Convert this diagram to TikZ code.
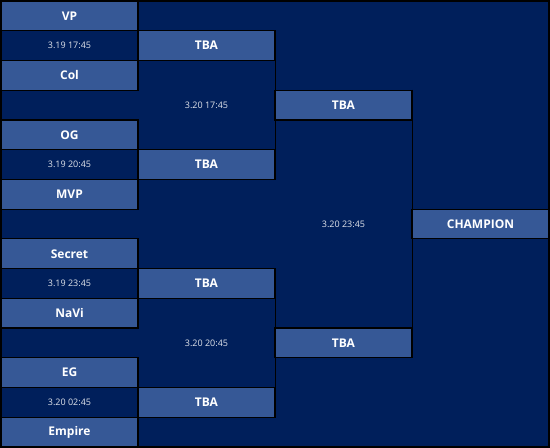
\documentclass[tikz,border=0pt]{standalone}
\usepackage{fontspec}
\setmainfont{Open Sans}
\definecolor{navy}{RGB}{0,31,91}
\definecolor{boxblue}{RGB}{54,88,150}
\definecolor{datewhite}{RGB}{225,228,235}
\tikzset{
  cellbase/.style={draw=black, line width=1.2pt, minimum width=137pt, minimum height=29.73pt, inner sep=0pt, anchor=center},
  team/.style={cellbase, fill=boxblue, text=white, font=\bfseries\fontsize{12}{14}\selectfont},
  datecell/.style={cellbase, fill=navy, text=datewhite, font=\fontsize{9}{11}\selectfont},
  timelbl/.style={inner sep=0pt, text=datewhite, font=\fontsize{9}{11}\selectfont},
  bracket/.style={draw=black, line width=1.2pt}
}
\begin{document}
\begin{tikzpicture}[x=1pt,y=-1pt]
\useasboundingbox (0,0) rectangle (550,448);
\fill[navy] (0,0) rectangle (550,448);
\def\rh{29.733}
% column centres
\def\ca{69.5}\def\cb{206.5}\def\cc{343.5}\def\cd{480.5}
% first-round match cells
\node[team] (vp) at (\ca,{1+\rh*0.5}) {VP};
\node[datecell] (d1) at (\ca,{1+\rh*1.5}) {3.19 17:45};
\node[team] (col) at (\ca,{1+\rh*2.5}) {Col};
\node[team] (og) at (\ca,{1+\rh*4.5}) {OG};
\node[datecell] (d2) at (\ca,{1+\rh*5.5}) {3.19 20:45};
\node[team] (mvp) at (\ca,{1+\rh*6.5}) {MVP};
\node[team] (secret) at (\ca,{1+\rh*8.5}) {Secret};
\node[datecell] (d3) at (\ca,{1+\rh*9.5}) {3.19 23:45};
\node[team] (navi) at (\ca,{1+\rh*10.5}) {NaVi};
\node[team] (eg) at (\ca,{1+\rh*12.5}) {EG};
\node[datecell] (d4) at (\ca,{1+\rh*13.5}) {3.20 02:45};
\node[team] (empire) at (\ca,{1+\rh*14.5}) {Empire};
% semifinal slots
\node[team] (t1) at (\cb,{1+\rh*1.5}) {TBA};
\node[team] (t2) at (\cb,{1+\rh*5.5}) {TBA};
\node[team] (t3) at (\cb,{1+\rh*9.5}) {TBA};
\node[team] (t4) at (\cb,{1+\rh*13.5}) {TBA};
% final slots
\node[team] (f1) at (\cc,{1+\rh*3.5}) {TBA};
\node[team] (f2) at (\cc,{1+\rh*11.5}) {TBA};
% champion
\node[team] (champ) at (\cd,{1+\rh*7.5}) {CHAMPION};
% match times
\node[timelbl] (m1) at (\cb,{1+\rh*3.5}) {3.20 17:45};
\node[timelbl] (m2) at (\cb,{1+\rh*11.5}) {3.20 20:45};
\node[timelbl] (m3) at (\cc,{1+\rh*7.5}) {3.20 23:45};
% bracket lines
\draw[bracket] (t1.north east) -- (t2.south east);
\draw[bracket] (t3.north east) -- (t4.south east);
\draw[bracket] (f1.north east) -- (f2.south east);
% outer frame
\draw[black, line width=1.6pt] (0.8,0.8) rectangle (549.2,447.2);
\end{tikzpicture}
\end{document}
